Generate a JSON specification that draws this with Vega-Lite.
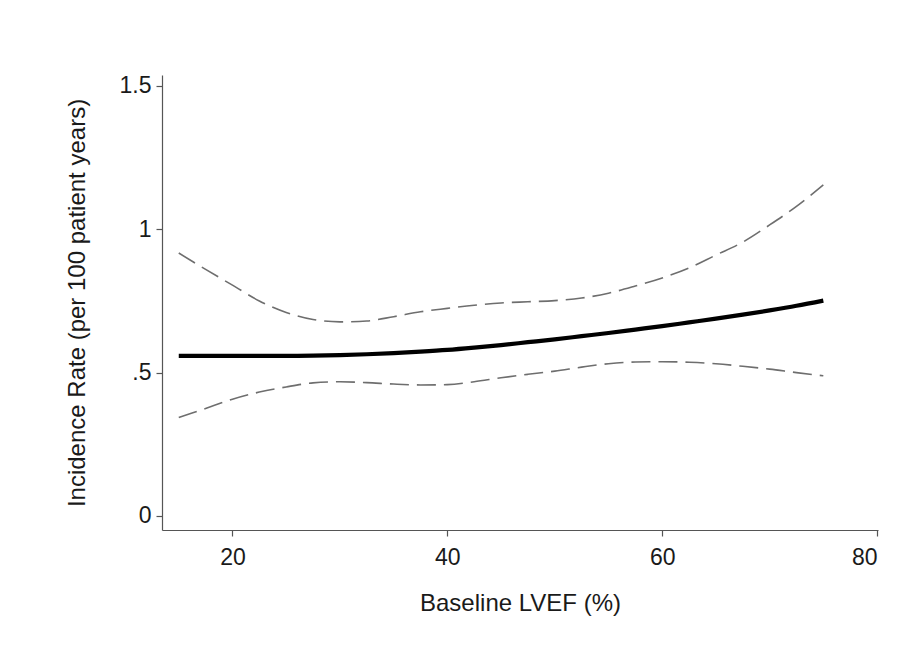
{
  "$schema": "https://vega.github.io/schema/vega-lite/v6.json",
  "autosize": "none",
  "padding": {"left": 162, "top": 75, "right": 28, "bottom": 134},
  "width": 716,
  "height": 455,
  "background": "white",
  "config": {
    "view": {"stroke": null},
    "font": "Liberation Sans",
    "axis": {
      "grid": false,
      "domainColor": "#555555",
      "domainWidth": 1.2,
      "tickColor": "#555555",
      "tickWidth": 1.2,
      "tickSize": 6,
      "labelFont": "Liberation Sans",
      "labelFontSize": 23,
      "labelColor": "#1a1a1a",
      "titleFont": "Liberation Sans",
      "titleFontSize": 24,
      "titleFontWeight": "normal",
      "titleColor": "#1a1a1a"
    }
  },
  "data": {
    "values": [
      {"lvef": 15, "est": 0.558, "lo": 0.343, "hi": 0.917},
      {"lvef": 17.5, "est": 0.558, "lo": 0.375, "hi": 0.86},
      {"lvef": 20, "est": 0.558, "lo": 0.407, "hi": 0.805},
      {"lvef": 22.5, "est": 0.558, "lo": 0.432, "hi": 0.75},
      {"lvef": 25, "est": 0.558, "lo": 0.45, "hi": 0.71},
      {"lvef": 27.5, "est": 0.559, "lo": 0.464, "hi": 0.685},
      {"lvef": 30, "est": 0.561, "lo": 0.468, "hi": 0.677},
      {"lvef": 32.5, "est": 0.564, "lo": 0.465, "hi": 0.68},
      {"lvef": 35, "est": 0.568, "lo": 0.46, "hi": 0.695},
      {"lvef": 37.5, "est": 0.573, "lo": 0.457, "hi": 0.712},
      {"lvef": 40, "est": 0.579, "lo": 0.458, "hi": 0.724},
      {"lvef": 42.5, "est": 0.587, "lo": 0.468, "hi": 0.735},
      {"lvef": 45, "est": 0.596, "lo": 0.482, "hi": 0.743},
      {"lvef": 47.5, "est": 0.606, "lo": 0.494, "hi": 0.747},
      {"lvef": 50, "est": 0.616, "lo": 0.505, "hi": 0.751},
      {"lvef": 52.5, "est": 0.627, "lo": 0.519, "hi": 0.76},
      {"lvef": 55, "est": 0.638, "lo": 0.531, "hi": 0.777},
      {"lvef": 57.5, "est": 0.65, "lo": 0.537, "hi": 0.802},
      {"lvef": 60, "est": 0.662, "lo": 0.538, "hi": 0.83},
      {"lvef": 62.5, "est": 0.675, "lo": 0.536, "hi": 0.865},
      {"lvef": 65, "est": 0.688, "lo": 0.531, "hi": 0.91},
      {"lvef": 67.5, "est": 0.702, "lo": 0.522, "hi": 0.955},
      {"lvef": 70, "est": 0.717, "lo": 0.512, "hi": 1.015},
      {"lvef": 72.5, "est": 0.733, "lo": 0.5, "hi": 1.08},
      {"lvef": 75, "est": 0.751, "lo": 0.489, "hi": 1.155}
    ]
  },
  "encoding": {
    "x": {
      "field": "lvef",
      "type": "quantitative",
      "scale": {"domain": [13.44, 80.09], "nice": false, "zero": false},
      "axis": {"values": [20, 40, 60, 80], "title": "Baseline LVEF (%)", "labelPadding": 10, "titlePadding": 22}
    }
  },
  "layer": [
    {
      "mark": {"type": "line", "interpolate": "monotone", "color": "#6e6e6e", "strokeWidth": 1.6, "strokeDash": [19, 8]},
      "encoding": {
        "y": {
          "field": "hi",
          "type": "quantitative",
          "scale": {"domain": [-0.049, 1.538], "nice": false, "zero": false},
          "axis": {
            "values": [0, 0.5, 1, 1.5],
            "format": "~g",
            "labelExpr": "datum.value == 0.5 ? '.5' : datum.label",
            "title": "Incidence Rate (per 100 patient years)",
            "labelPadding": 5,
            "titlePadding": 30
          }
        }
      }
    },
    {
      "mark": {"type": "line", "interpolate": "monotone", "color": "#6e6e6e", "strokeWidth": 1.6, "strokeDash": [19, 8]},
      "encoding": {"y": {"field": "lo", "type": "quantitative"}}
    },
    {
      "mark": {"type": "line", "interpolate": "monotone", "color": "#000000", "strokeWidth": 4.2},
      "encoding": {"y": {"field": "est", "type": "quantitative"}}
    }
  ]
}
